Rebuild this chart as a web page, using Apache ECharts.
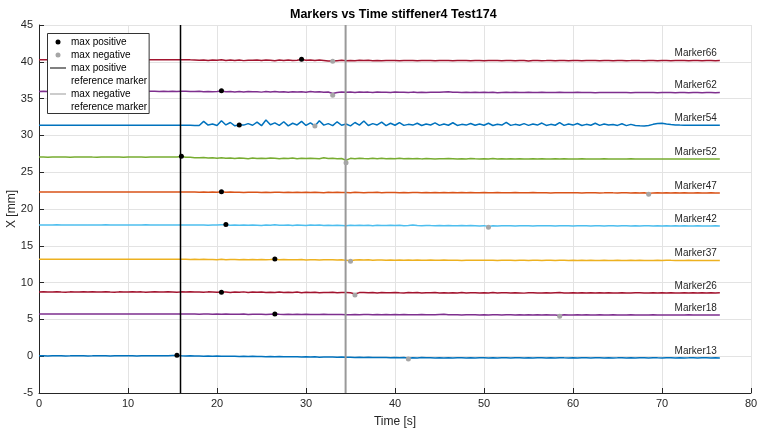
<!DOCTYPE html>
<html>
<head>
<meta charset="utf-8">
<script src="https://cdn.jsdelivr.net/npm/echarts@6/dist/echarts.min.js"></script>
<style>html,body{margin:0;padding:0;background:#fff}#c{width:757px;height:433px}</style>
</head>
<body>
<div id="c"></div>
<script>
var timeS = [0,0.5,1,1.5,2,2.5,3,3.5,4,4.5,5,5.5,6,6.5,7,7.5,8,8.5,9,9.5,10,10.5,11,11.5,12,12.5,13,13.5,14,14.5,15,15.5,16,16.5,17,17.5,18,18.5,19,19.5,20,20.5,21,21.5,22,22.5,23,23.5,24,24.5,25,25.5,26,26.5,27,27.5,28,28.5,29,29.5,30,30.5,31,31.5,32,32.5,33,33.5,34,34.5,35,35.5,36,36.5,37,37.5,38,38.5,39,39.5,40,40.5,41,41.5,42,42.5,43,43.5,44,44.5,45,45.5,46,46.5,47,47.5,48,48.5,49,49.5,50,50.5,51,51.5,52,52.5,53,53.5,54,54.5,55,55.5,56,56.5,57,57.5,58,58.5,59,59.5,60,60.5,61,61.5,62,62.5,63,63.5,64,64.5,65,65.5,66,66.5,67,67.5,68,68.5,69,69.5,70,70.5,71,71.5,72,72.5,73,73.5,74,74.5,75,75.5,76,76.5];

var marker66 = [40.27,40.28,40.27,40.29,40.28,40.27,40.28,40.28,40.29,40.27,
40.28,40.27,40.28,40.29,40.28,40.27,40.28,40.29,40.28,40.27,
40.28,40.29,40.27,40.28,40.28,40.27,40.29,40.28,40.27,40.28,
40.28,40.27,40.28,40.29,40.27,40.26,40.22,40.25,40.18,40.24,
40.2,40.27,40.17,40.23,40.19,40.26,40.16,40.22,40.2,40.25,
40.17,40.24,40.2,40.15,40.23,40.19,40.26,40.18,40.22,40.32,
40.2,40.25,40.17,40.23,40.19,40.12,40.1,40.15,40.2,40.13,
40.19,40.14,40.21,40.16,40.2,40.15,40.18,40.13,40.19,40.16,
40.18,40.15,40.19,40.16,40.17,40.14,40.18,40.16,40.17,40.15,
40.17,40.16,40.18,40.15,40.17,40.16,40.18,40.15,40.16,40.17,
40.15,40.17,40.16,40.18,40.15,40.17,40.16,40.15,40.17,40.16,
40.12,40.16,40.17,40.15,40.16,40.18,40.15,40.17,40.16,40.15,
40.17,40.16,40.15,40.17,40.16,40.18,40.15,40.16,40.17,40.15,
40.16,40.17,40.15,40.16,40.18,40.16,40.15,40.17,40.16,40.15,
40.16,40.17,40.15,40.16,40.17,40.16,40.15,40.17,40.16,40.15,
40.16,40.17,40.15,40.16];

var marker62 = [35.98,35.99,35.98,35.99,36.0,35.98,35.99,35.98,36.0,35.99,
35.98,35.99,36.0,35.98,35.99,35.98,35.99,36.0,35.98,35.99,
35.99,35.98,36.0,35.99,35.98,35.99,36.0,35.98,35.99,35.98,
35.99,35.98,35.99,36.0,35.97,35.95,35.99,35.92,35.98,35.94,
35.96,36.03,35.93,35.97,35.91,35.95,35.89,35.96,35.92,35.94,
35.88,35.95,35.91,35.97,35.9,35.93,35.87,35.94,35.9,35.92,
35.86,35.95,35.89,35.92,35.85,35.9,35.7,35.84,35.9,35.86,
35.89,35.84,35.9,35.86,35.88,35.83,35.89,35.85,35.87,35.84,
35.88,35.85,35.87,35.83,35.88,35.84,35.86,35.83,35.87,35.85,
35.86,35.9,35.93,35.85,35.87,35.83,35.86,35.84,35.85,35.83,
35.86,35.84,35.85,35.8,35.84,35.86,35.83,35.85,35.84,35.82,
35.85,35.83,35.84,35.86,35.82,35.84,35.83,35.85,35.82,35.84,
35.83,35.85,35.82,35.84,35.83,35.81,35.84,35.83,35.82,35.84,
35.82,35.83,35.84,35.81,35.83,35.82,35.84,35.82,35.83,35.81,
35.83,35.82,35.84,35.81,35.83,35.82,35.81,35.83,35.82,35.81,
35.82,35.83,35.81,35.82];

var marker54 = [31.38,31.39,31.38,31.38,31.39,31.38,31.39,31.38,31.38,31.39,
31.38,31.39,31.38,31.38,31.39,31.38,31.38,31.39,31.38,31.38,
31.39,31.38,31.38,31.39,31.38,31.38,31.39,31.38,31.38,31.39,
31.38,31.37,31.38,31.38,31.37,31.36,31.35,31.9,31.4,31.55,
31.35,32.0,31.42,31.75,31.3,31.42,31.4,31.6,31.38,31.8,
31.32,32.1,31.45,31.7,31.36,31.85,31.3,31.65,31.42,31.9,
31.35,31.7,31.28,32.0,31.4,31.6,31.33,31.85,31.38,31.55,
31.3,31.75,31.4,31.95,31.34,31.6,31.42,31.8,31.32,31.65,
31.38,31.75,31.36,31.5,31.4,31.65,31.34,31.55,31.42,31.7,
31.36,31.55,31.38,31.72,31.35,31.5,31.4,31.62,31.37,31.55,
31.38,31.65,31.35,31.52,31.4,31.78,31.36,31.5,31.38,31.6,
31.36,31.55,31.4,31.68,31.35,31.5,31.38,31.75,31.36,31.55,
31.4,31.62,31.35,31.5,31.38,31.65,31.36,31.55,31.4,31.48,
31.36,31.58,31.33,31.5,31.35,31.3,31.28,31.35,31.5,31.62,
31.65,31.55,31.47,31.42,31.4,31.39,31.38,31.39,31.38,31.38,
31.39,31.38,31.38,31.39];

var marker52 = [27.05,27.07,27.04,27.06,27.08,27.05,27.06,27.04,27.07,27.05,
27.06,27.08,27.05,27.04,27.07,27.06,27.05,27.08,27.06,27.04,
27.07,27.05,27.06,27.08,27.04,27.06,27.07,27.05,27.06,27.08,
27.05,27.06,27.14,27.04,27.02,26.98,26.95,26.99,26.92,26.96,
26.9,26.97,26.88,26.94,26.86,26.93,26.89,26.84,26.92,26.87,
26.91,26.85,26.93,26.88,26.83,26.9,26.86,26.92,26.84,26.89,
26.85,26.91,26.87,26.82,26.95,26.86,26.89,26.83,26.87,26.62,
26.88,26.84,26.9,26.85,26.82,26.88,26.84,26.89,26.83,26.86,
26.84,26.88,26.82,26.86,26.83,26.87,26.81,26.85,26.83,26.8,
26.84,26.82,26.86,26.83,26.79,26.84,26.81,26.85,26.82,26.8,
26.83,26.81,26.85,26.8,26.83,26.78,26.82,26.8,26.84,26.81,
26.79,26.83,26.8,26.82,26.78,26.81,26.83,26.79,26.82,26.8,
26.81,26.79,26.82,26.8,26.78,26.81,26.79,26.82,26.8,26.79,
26.81,26.79,26.8,26.82,26.79,26.8,26.81,26.79,26.8,26.81,
26.8,26.79,26.81,26.8,26.79,26.81,26.8,26.79,26.8,26.81,
26.8,26.79,26.81,26.8];

var marker47 = [22.31,22.32,22.31,22.3,22.32,22.31,22.3,22.31,22.32,22.31,
22.3,22.31,22.32,22.31,22.3,22.31,22.32,22.3,22.31,22.31,
22.32,22.31,22.3,22.31,22.32,22.31,22.3,22.31,22.31,22.32,
22.31,22.3,22.31,22.32,22.3,22.31,22.29,22.31,22.28,22.3,
22.29,22.35,22.27,22.3,22.26,22.29,22.25,22.28,22.26,22.29,
22.25,22.28,22.24,22.27,22.26,22.23,22.27,22.25,22.28,22.24,
22.26,22.23,22.27,22.25,22.22,22.26,22.24,22.27,22.23,22.25,
22.22,22.26,22.24,22.21,22.25,22.23,22.26,22.22,22.24,22.23,
22.25,22.22,22.24,22.21,22.23,22.25,22.22,22.24,22.21,22.23,
22.22,22.24,22.21,22.23,22.22,22.24,22.2,22.23,22.22,22.21,
22.23,22.21,22.22,22.24,22.2,22.22,22.21,22.23,22.2,22.22,
22.21,22.23,22.2,22.22,22.21,22.19,22.22,22.2,22.21,22.22,
22.2,22.21,22.19,22.22,22.2,22.21,22.19,22.2,22.22,22.2,
22.19,22.21,22.2,22.18,22.21,22.19,22.2,22.1,22.19,22.2,
22.19,22.2,22.18,22.2,22.19,22.2,22.18,22.19,22.2,22.19,
22.18,22.2,22.19,22.18];

var marker42 = [17.83,17.84,17.82,17.83,17.85,17.83,17.82,17.84,17.83,17.82,
17.84,17.83,17.82,17.84,17.83,17.85,17.82,17.83,17.84,17.82,
17.83,17.84,17.82,17.83,17.85,17.82,17.84,17.83,17.82,17.84,
17.83,17.82,17.84,17.83,17.82,17.84,17.81,17.83,17.8,17.84,
17.81,17.85,17.87,17.8,17.84,17.79,17.83,17.78,17.82,17.8,
17.77,17.82,17.79,17.86,17.8,17.78,17.83,17.77,17.81,17.79,
17.76,17.81,17.78,17.84,17.77,17.8,17.75,17.79,17.77,17.72,
17.78,17.75,17.8,17.76,17.79,17.74,17.78,17.76,17.75,17.79,
17.75,17.78,17.74,17.77,17.83,17.76,17.73,17.77,17.75,17.74,
17.77,17.72,17.76,17.74,17.73,17.77,17.72,17.75,17.73,17.68,
17.74,17.62,17.72,17.7,17.74,17.71,17.73,17.7,17.72,17.71,
17.73,17.7,17.72,17.74,17.71,17.72,17.7,17.73,17.71,17.72,
17.7,17.72,17.71,17.73,17.7,17.72,17.71,17.7,17.72,17.71,
17.7,17.72,17.71,17.69,17.72,17.7,17.71,17.72,17.7,17.71,
17.7,17.71,17.69,17.71,17.7,17.72,17.7,17.69,17.71,17.7,
17.69,17.7,17.71,17.69];

var marker37 = [13.17,13.18,13.17,13.16,13.18,13.17,13.16,13.17,13.18,13.17,
13.16,13.17,13.18,13.17,13.16,13.17,13.18,13.16,13.17,13.17,
13.18,13.17,13.16,13.17,13.18,13.16,13.17,13.17,13.18,13.16,
13.17,13.16,13.18,13.17,13.15,13.17,13.14,13.16,13.13,13.15,
13.12,13.16,13.11,13.15,13.13,13.1,13.14,13.12,13.15,13.11,
13.14,13.1,13.13,13.18,13.11,13.14,13.09,13.12,13.1,13.13,
13.08,13.12,13.1,13.07,13.11,13.09,13.12,13.08,13.1,13.02,
12.98,13.06,13.1,13.07,13.09,13.05,13.08,13.06,13.04,13.07,
13.05,13.08,13.04,13.06,13.03,13.07,13.05,13.02,13.06,13.04,
13.03,13.06,13.02,13.05,13.04,13.01,13.05,13.03,13.04,13.02,
13.04,13.02,13.05,13.01,13.03,13.04,13.02,13.0,13.03,13.02,
13.01,13.04,13.02,13.0,13.03,13.05,13.01,13.02,13.03,13.0,
13.02,13.01,13.03,13.0,13.02,13.01,12.99,13.02,13.01,13.0,
13.02,13.0,13.01,13.03,13.0,13.02,13.01,12.99,13.01,13.02,
13.0,13.05,13.02,13.0,13.01,13.0,13.02,13.01,12.99,13.01,
13.0,13.01,12.99,13.0];

var marker26 = [8.72,8.74,8.71,8.73,8.75,8.72,8.7,8.74,8.73,8.71,
8.74,8.72,8.75,8.71,8.73,8.76,8.72,8.7,8.74,8.73,
8.71,8.75,8.72,8.74,8.7,8.73,8.76,8.72,8.71,8.74,
8.73,8.7,8.74,8.72,8.75,8.71,8.73,8.7,8.74,8.72,
8.7,8.73,8.71,8.67,8.73,8.69,8.74,8.66,8.71,8.68,
8.72,8.65,8.7,8.67,8.73,8.64,8.69,8.66,8.71,8.63,
8.68,8.65,8.7,8.63,8.67,8.64,8.69,8.62,8.66,8.64,
8.61,8.45,8.64,8.67,8.62,8.65,8.6,8.66,8.63,8.61,
8.65,8.62,8.6,8.64,8.61,8.66,8.59,8.63,8.61,8.64,
8.6,8.63,8.58,8.62,8.6,8.64,8.59,8.61,8.63,8.58,
8.62,8.6,8.64,8.58,8.61,8.63,8.59,8.62,8.6,8.57,
8.61,8.63,8.59,8.6,8.62,8.58,8.61,8.64,8.59,8.6,
8.62,8.58,8.61,8.6,8.63,8.59,8.61,8.58,8.62,8.6,
8.59,8.62,8.6,8.58,8.61,8.63,8.59,8.6,8.62,8.58,
8.61,8.59,8.62,8.6,8.58,8.61,8.6,8.62,8.59,8.61,
8.6,8.62,8.59,8.61];

var marker18 = [5.73,5.74,5.72,5.73,5.74,5.73,5.72,5.73,5.74,5.72,
5.73,5.74,5.73,5.72,5.73,5.74,5.72,5.73,5.73,5.74,
5.72,5.73,5.74,5.73,5.72,5.73,5.74,5.72,5.73,5.73,
5.74,5.72,5.73,5.74,5.72,5.73,5.71,5.73,5.72,5.7,
5.72,5.7,5.73,5.69,5.71,5.7,5.72,5.68,5.71,5.69,
5.7,5.68,5.71,5.73,5.69,5.67,5.7,5.68,5.69,5.66,
5.69,5.67,5.68,5.66,5.69,5.67,5.65,5.68,5.66,5.64,
5.62,5.66,5.64,5.67,5.65,5.63,5.66,5.64,5.65,5.63,
5.65,5.63,5.66,5.62,5.64,5.63,5.65,5.62,5.64,5.63,
5.66,5.69,5.64,5.62,5.64,5.61,5.63,5.62,5.64,5.61,
5.63,5.6,5.62,5.64,5.61,5.63,5.62,5.6,5.63,5.61,
5.62,5.6,5.63,5.61,5.62,5.6,5.61,5.54,5.62,5.6,
5.61,5.63,5.6,5.62,5.61,5.59,5.62,5.6,5.61,5.62,
5.6,5.61,5.59,5.62,5.6,5.61,5.59,5.6,5.62,5.6,
5.59,5.61,5.6,5.59,5.61,5.6,5.62,5.6,5.59,5.61,
5.6,5.59,5.61,5.6];

var marker13 = [0.05,0.06,0.04,0.07,0.05,0.06,0.04,0.05,0.07,0.05,
0.06,0.04,0.05,0.07,0.06,0.05,0.04,0.06,0.05,0.07,
0.05,0.06,0.04,0.07,0.05,0.06,0.05,0.07,0.06,0.05,
0.08,0.11,0.06,0.04,0.05,0.02,0.04,0.0,0.03,0.01,
0.02,-0.02,0.01,-0.01,0.0,-0.04,-0.02,-0.05,-0.01,-0.04,
-0.03,-0.07,-0.05,-0.06,-0.05,-0.09,-0.06,-0.08,-0.07,-0.11,
-0.08,-0.1,-0.09,-0.13,-0.11,-0.12,-0.11,-0.15,-0.12,-0.14,
-0.13,-0.17,-0.15,-0.16,-0.15,-0.19,-0.17,-0.18,-0.17,-0.21,
-0.18,-0.22,-0.19,-0.28,-0.2,-0.23,-0.19,-0.22,-0.2,-0.24,
-0.21,-0.23,-0.2,-0.24,-0.22,-0.2,-0.23,-0.21,-0.24,-0.22,
-0.2,-0.23,-0.21,-0.24,-0.22,-0.2,-0.23,-0.21,-0.22,-0.24,
-0.21,-0.23,-0.2,-0.22,-0.24,-0.21,-0.23,-0.2,-0.22,-0.23,
-0.21,-0.24,-0.22,-0.2,-0.23,-0.21,-0.22,-0.24,-0.21,-0.23,
-0.22,-0.2,-0.23,-0.21,-0.24,-0.22,-0.21,-0.23,-0.2,-0.22,
-0.23,-0.21,-0.22,-0.24,-0.21,-0.23,-0.22,-0.2,-0.23,-0.21,
-0.22,-0.24,-0.21,-0.23];

var markerNames = ['Marker66','Marker62','Marker54','Marker52','Marker47','Marker42','Marker37','Marker26','Marker18','Marker13'];
var markerValues = [marker66, marker62, marker54, marker52, marker47, marker42, marker37, marker26, marker18, marker13];
var markerColors = ['#A2142F','#7E2F8E','#0072BD','#77AC30','#D95319','#4DBEEE','#EDB120','#A2142F','#7E2F8E','#0072BD'];

var maxPosTime = [29.5, 20.5, 22.5, 16, 20.5, 21, 26.5, 20.5, 26.5, 15.5];
var maxPosValue = [40.34, 36.05, 31.42, 27.16, 22.36, 17.88, 13.2, 8.7, 5.73, 0.12];
var maxNegTime = [33, 33, 31, 34.5, 68.5, 50.5, 35, 35.5, 58.5, 41.5];
var maxNegValue = [40.07, 35.45, 31.28, 26.3, 22.0, 17.51, 12.9, 8.3, 5.42, -0.38];

var refPosTime = 15.9;
var refNegTime = 34.45;
var yRange = [-5, 45];

var xTicks = {min: 0, max: 80, interval: 10};
var yTicks = {min: -5, max: 45, interval: 5};

var FONT = 'Liberation Sans, Arial, Helvetica, sans-serif';
var series = [];
markerNames.forEach(function (nm, k) {
  var vals = markerValues[k];
  var pts = timeS.map(function (t, i) { return [t, vals[i]]; });
  var last = pts[pts.length - 1];
  series.push({
    name: nm, type: 'line', data: pts, symbol: 'none', showSymbol: false,
    lineStyle: {color: markerColors[k], width: 1.5}, itemStyle: {color: markerColors[k]},
    silent: true, z: 2,
    markPoint: {
      symbol: 'circle', symbolSize: 0, silent: true, animation: false,
      label: {show: true, position: 'left', distance: 3, offset: [0, -7], color: '#262626', fontSize: 10, fontFamily: FONT, formatter: nm},
      data: [{coord: last}]
    }
  });
});
series.push({
  name: 'max positive reference marker', type: 'line', symbol: 'none', silent: true, z: 3,
  data: [[refPosTime, yRange[0]], [refPosTime, yRange[1]]],
  lineStyle: {color: '#000000', width: 1.5}, itemStyle: {color: '#000000'}
});
series.push({
  name: 'max negative reference marker', type: 'line', symbol: 'none', silent: true, z: 3,
  data: [[refNegTime, yRange[0]], [refNegTime, yRange[1]]],
  lineStyle: {color: '#999999', width: 2}, itemStyle: {color: '#999999'}
});
series.push({
  name: 'max positive', type: 'scatter', symbol: 'circle', symbolSize: 5, z: 4,
  data: maxPosTime.map(function (t, i) { return [t, maxPosValue[i]]; }),
  itemStyle: {color: '#000000', opacity: 1}
});
series.push({
  name: 'max negative', type: 'scatter', symbol: 'circle', symbolSize: 5, z: 4,
  data: maxNegTime.map(function (t, i) { return [t, maxNegValue[i]]; }),
  itemStyle: {color: '#a6a6a6', opacity: 1}
});

var lineIcon = 'path://M0,0L16,0L16,1L0,1Z';
var dotIcon = 'path://M0,0M16,5M5.5,2.5A2.5,2.5,0,1,0,10.5,2.5A2.5,2.5,0,1,0,5.5,2.5Z';
var chart = echarts.init(document.getElementById('c'), null, {renderer: 'canvas'});
chart.setOption({
  animation: false,
  backgroundColor: '#ffffff',
  title: {
    text: 'Markers vs Time stiffener4 Test174', left: 290, top: 8, padding: 0,
    textStyle: {fontFamily: FONT, fontSize: 12.5, fontWeight: 'bold', color: '#000'}
  },
  legend: [
    {
      orient: 'vertical', left: 47.5, top: 33.5, z: 4,
      padding: [15, 2, 0, 2.5], itemGap: -13, itemWidth: 16, itemHeight: 14,
      backgroundColor: '#ffffff', borderColor: '#333333', borderWidth: 1, borderRadius: 0,
      data: [{name: 'max positive reference marker', icon: lineIcon}, {name: 'max negative reference marker', icon: lineIcon}],
      formatter: function (n) { return ' \n' + n.replace(' reference', '\nreference'); },
      textStyle: {fontFamily: FONT, fontSize: 10, lineHeight: 13, color: '#000'},
      selectedMode: false
    },
    {
      orient: 'vertical', left: 50, top: 35.5, z: 6,
      padding: 0, itemGap: 0, itemWidth: 16, itemHeight: 5,
      data: [{name: 'max positive', icon: dotIcon}, {name: 'max negative', icon: dotIcon}],
      textStyle: {fontFamily: FONT, fontSize: 10, lineHeight: 13, color: '#000'},
      selectedMode: false
    }
  ],
  grid: {left: 39, right: 6, top: 25, bottom: 40, containLabel: false, outerBoundsMode: 'none'},
  xAxis: {
    type: 'value', min: xTicks.min, max: xTicks.max, interval: xTicks.interval,
    name: 'Time [s]', nameLocation: 'middle', nameGap: 23, nameMoveOverlap: false,
    nameTextStyle: {fontFamily: FONT, fontSize: 12, color: '#262626'},
    axisLine: {show: true, onZero: false, lineStyle: {color: '#262626', width: 1}},
    axisTick: {show: true, inside: true, length: 5, lineStyle: {color: '#262626'}},
    axisLabel: {fontFamily: FONT, fontSize: 11, color: '#262626', margin: 5},
    splitLine: {show: true, lineStyle: {color: '#e3e3e3', width: 1}}
  },
  yAxis: {
    type: 'value', min: yTicks.min, max: yTicks.max, interval: yTicks.interval,
    name: 'X [mm]', nameLocation: 'middle', nameGap: 21, nameMoveOverlap: false,
    nameTextStyle: {fontFamily: FONT, fontSize: 12, color: '#262626'},
    axisLine: {show: true, onZero: false, lineStyle: {color: '#262626', width: 1}},
    axisTick: {show: true, inside: true, length: 5, lineStyle: {color: '#262626'}},
    axisLabel: {fontFamily: FONT, fontSize: 11, color: '#262626', margin: 6},
    splitLine: {show: true, lineStyle: {color: '#e3e3e3', width: 1}}
  },
  series: series
});
</script>
</body>
</html>
